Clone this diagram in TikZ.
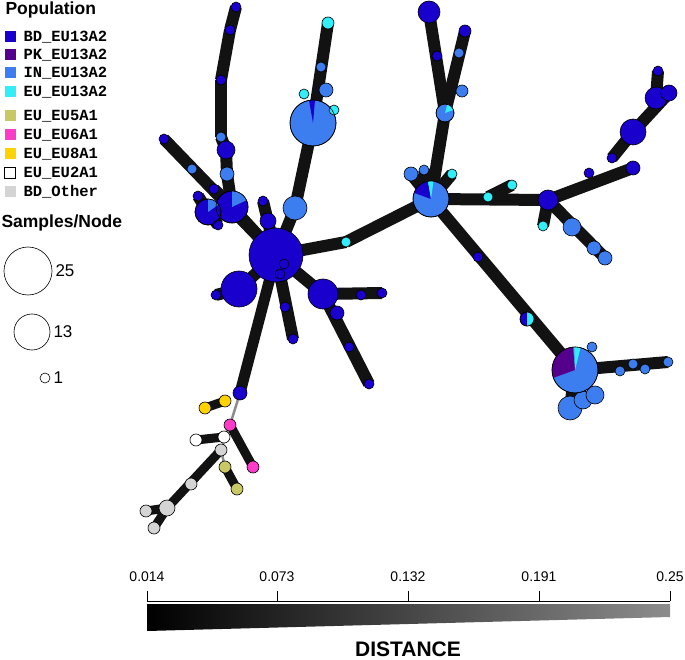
\documentclass[tikz,border=0pt]{standalone}
\usepackage{fontspec}
\setmainfont{Liberation Sans}
\newfontfamily\legmono{Liberation Mono}
\usetikzlibrary{backgrounds}

\definecolor{bd}{RGB}{25,0,205}
\definecolor{pk}{RGB}{85,0,140}
\definecolor{inc}{RGB}{60,125,240}
\definecolor{euc}{RGB}{50,238,248}
\definecolor{eufive}{RGB}{200,200,100}
\definecolor{eusix}{RGB}{250,60,200}
\definecolor{eueight}{RGB}{255,210,0}
\definecolor{other}{RGB}{212,212,212}

\tikzset{
    nd/.style   = {circle, draw=black, line width=0.6pt, inner sep=0pt, outer sep=0pt},
    edge/.style = {line width=12pt, color=black!93},
    thin/.style = {line width=2.5pt, color=black!45},
    sq/.style   = {minimum size=11pt, inner sep=0pt},
    leg/.style  = {anchor=west, font=\legmono\bfseries\fontsize{15.5}{15.5}\selectfont},
    head/.style = {anchor=west, font=\bfseries\fontsize{17.5}{17.5}\selectfont},
}

\begin{document}
\begin{tikzpicture}[x=1pt, y=-1pt]
    \useasboundingbox (0,0) rectangle (685,660);

    % network nodes: name/x/y/radius/colour
    \foreach \n/\x/\y/\r/\c in {
            hub/276/255/27/bd, pA/232/207/16/bd, pB/208/212/13/bd,
            sa/198/196/5/bd, sb/214/189/5/bd, sc/218/225/5/bd,
            ua/164/139/5/bd, ub/192/169/5/inc,
            va/227/174/7/inc, vb/226/150/9/bd, vc/221/137/5/inc,
            vd/221/80/5/bd, ve/230/30/5/bd, vf/236/7/5/bd,
            wa/263/201/5/bd, wb/268/221/8/bd,
            ca/295/208/12/inc, cP/313/123/23/inc,
            cb/304/94/5/euc, cc/326/90/7/inc, cd/334/110/5/euc,
            ce/321/67/5/inc, cf/328/23/6/euc,
            la/239/289/18/bd, lb/216/295/5/bd,
            ra/323/294/15/bd, rb/361/295/5/bd, rc/382/293/5/bd,
            rd/337/313/7/bd, re/349/347/5/bd, rf/369/384/5/bd,
            da/285/307/5/bd, db/293/339/5/bd,
            ma/346/242/5/euc, mP/431/199/18/inc,
            na/445/113/9/inc, nb/437/56/5/bd, nc/429/12/11/bd,
            nd/462/91/6/inc, ne/459/53/5/inc, nf/465/31/6/bd,
            oa/411/174/7/inc, ob/424/170/5/inc, oc/452/174/5/euc,
            qa/488/197/5/euc, qb/512/185/5/euc, qc/548/200/10/bd,
            qd/543/226/5/euc, qe/572/227/9/inc, qf/594/248/7/inc, qg/605/258/7/inc,
            ta/589/173/5/bd, tb/612/158/5/bd, tc/633/168/7/bd,
            td/633/132/13/bd, te/656/98/11/bd, tf/669/93/8/bd, tg/658/71/5/bd,
            ka/478/257/5/bd, kb/527/319/7/bd,
            ga/570/408/12/inc, gb/583/400/9/inc, gc/595/395/9/inc,
            kP/575/370/23/inc, kc/592/347/5/inc,
            ha/620/371/5/inc, hb/633/364/5/inc, hc/645/369/5/inc, hd/668/362/5/inc,
            xa/240/393/7/bd, ya/225/401/6/eueight, yb/205/408/6/eueight,
            za/230/425/6/eusix, zb/253/467/6/eusix,
            wc/224/437/6/white, wd/196/440/6/white,
            ea/221/450/6/other, fa/225/467/6/eufive, fb/237/489/6/eufive,
            eb/191/484/6/other, ec/167/508/8/other, ed/146/511/6/other, ee/154/528/6/other}
        \node[nd, fill=\c, minimum size=2*\r] (\n) at (\x,\y) {};

    % wedges of the mixed nodes
    \foreach \n/\r/\c/\s/\e in {pA/16/inc/90/25, pB/13/inc/90/35, cP/23/bd/85/100,
            na/9/euc/20/75, mP/18/bd/100/160, mP/18/euc/82/100,
            kP/23/pk/95/200, kP/23/euc/76/92, kb/7/euc/90/-90}
        \fill[\c] (\n.center) -- (\n.\s) arc[start angle=\s, end angle=\e, radius=\r pt] -- cycle;
    \foreach \n/\r in {pA/16, pB/13, cP/23, na/9, mP/18, kP/23, kb/7}
        \draw[line width=0.6pt] (\n.center) circle[radius=\r pt];
    \node[nd, minimum size=10] (hi) at (284,264) {};
    \node[nd, minimum size=10] (hj) at (280,274) {};

    \begin{pgfonlayer}{background}
        \foreach \a/\b in {hub/pA, pA/va, va/vb, vb/vc, vc/vd, vd/ve, ve/vf, pA/pB, pB/sa, pB/sc,
                pA/sb, hub/ua, hub/wa, hub/ca, ca/cP, cP/cf, hub/la, la/lb, hub/ra, ra/rc,
                ra/rf, hub/db, hub/ma, ma/mP, mP/na, na/nc, na/nf, mP/oa, mP/ob, mP/oc,
                mP/qc, qa/qb, qc/qd, qc/qg, qc/tc, tb/td, td/tf, te/tg, mP/kP, kP/hd, kP/ga}
            \draw[edge] (\a.center) -- (\b.center);
        \draw[edge, line width=11pt] (hub.center) -- (xa.center);
        \foreach \a/\b in {ya/yb, za/zb, wc/wd, fa/fb, ea/ec, ec/ed, ec/ee}
            \draw[edge, line width=9pt] (\a.center) -- (\b.center);
        \foreach \a/\b in {xa/za, za/ea, ea/fa, wc/za}
            \draw[thin] (\a.center) -- (\b.center);
    \end{pgfonlayer}

    % legend
    \node[head] (popT) at (2,10) {Population};
    \foreach \c/\t/\y in {bd/BD\_EU13A2/37, pk/PK\_EU13A2/55, inc/IN\_EU13A2/73, euc/EU\_EU13A2/92,
            eufive/EU\_EU5A1/116, eusix/EU\_EU6A1/135, eueight/EU\_EU8A1/154,
            white/EU\_EU2A1/173, other/BD\_Other/192} {
        \node[sq, fill=\c] (sq\y) at (10,\y) {};
        \node[leg] (lt\y) at (20,\y) {\t};
    }
    \draw[line width=0.5pt] (sq173.south west) rectangle (sq173.north east);
    \node[head] (sizeT) at (-2,223) {Samples/Node};
    \node[nd, minimum size=48, fill=white] (s25) at (28,271) {};
    \node[nd, minimum size=36, fill=white] (s13) at (32,332) {};
    \node[nd, minimum size=10, fill=white] (s1) at (45,378) {};
    \node[anchor=west, font=\fontsize{17}{17}\selectfont] at (s25.east) {25};
    \node[anchor=west, font=\fontsize{17}{17}\selectfont] at (s13.east) {13};
    \node[anchor=west, font=\fontsize{17}{17}\selectfont] at (s1.east) {1};

    % distance scale
    \shade[left color=black, right color=black!45] (147,604) -- (670,604) -- (670,617) -- (147,631) -- cycle;
    \draw[line width=0.7pt] (147,601) -- (670,601);
    \foreach \x/\t in {147/0.014, 277/0.073, 408/0.132, 539/0.191, 670/0.25} {
        \draw[line width=0.7pt] (\x,601) -- (\x,591);
        \node[font=\fontsize{14}{14}\selectfont] (tk\x) at (\x,577) {\t};
    }
    \node[font=\bfseries\fontsize{21}{21}\selectfont] (distT) at (408,649) {DISTANCE};
\end{tikzpicture}
\end{document}
